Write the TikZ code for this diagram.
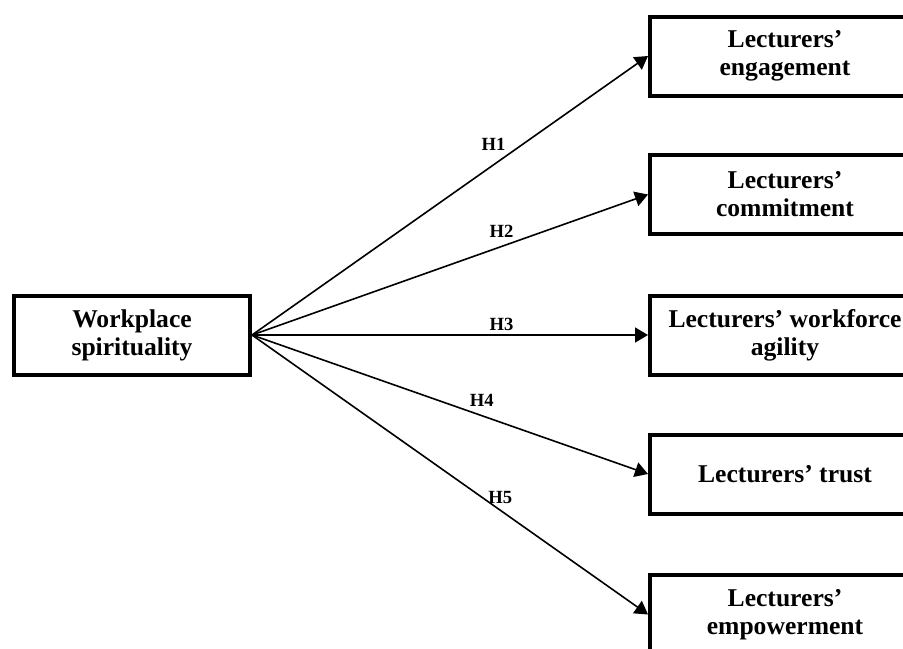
\documentclass[tikz,border=0pt]{standalone}
\usepackage{fontspec}
\setmainfont{Liberation Serif}
\usetikzlibrary{arrows.meta, positioning}

\begin{document}
\begin{tikzpicture}[x=0.5pt, y=-0.5pt,
    varbox/.style={draw, line width=2pt, align=center, font=\bfseries\fontsize{12.8}{14}\selectfont, minimum height=39.5pt, inner sep=2pt},
    srcbox/.style={varbox, minimum width=118pt},
    outbox/.style={varbox, minimum width=135pt},
    hyp/.style={-{Triangle[length=6.5pt, width=7.5pt]}, line width=0.8pt},
    hlabel/.style={font=\bfseries\fontsize{9.3}{10}\selectfont, inner sep=1pt}]
    \useasboundingbox (0,0) rectangle (903,648);
    % Nodes
    \node[srcbox] (spirit) at (132,335) {Workplace\\spirituality};
    \node[outbox] (engage) at (785,56) {Lecturers'\\engagement};
    \node[outbox] (commit) at (785,194.5) {Lecturers'\\commitment};
    \node[outbox] (agile) at (785,335) {Lecturers' workforce\\agility};
    \node[outbox] (trust) at (785,474) {Lecturers' trust};
    \node[outbox] (empower) at (785,614.5) {Lecturers'\\empowerment};

    % Arrows
    \draw[hyp] (spirit.east) -- node[hlabel, pos=0.61, above=6pt] (h1) {H1} (engage.west);
    \draw[hyp] (spirit.east) -- node[hlabel, pos=0.63, above=3pt] (h2) {H2} (commit.west);
    \draw[hyp] (spirit.east) -- node[hlabel, pos=0.63, above=1pt] (h3) {H3} (agile.west);
    \draw[hyp] (spirit.east) -- node[hlabel, pos=0.58, above=3pt] (h4) {H4} (trust.west);
    \draw[hyp] (spirit.east) -- node[hlabel, pos=0.6, above right=-2pt and -2pt] (h5) {H5} (empower.west);
\end{tikzpicture}
\end{document}
